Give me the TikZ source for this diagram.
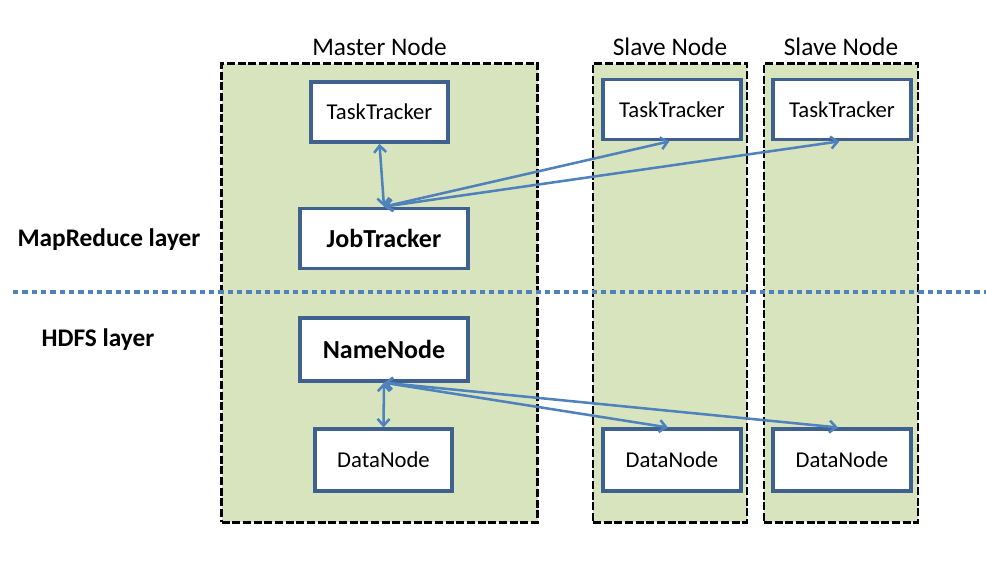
\documentclass[tikz,border=0pt]{standalone}
\usepackage{fontspec}
\setmainfont{Carlito}
\usetikzlibrary{arrows.meta}
\definecolor{boxgreen}{HTML}{D7E4BD}
\definecolor{nodeblue}{HTML}{3E6190}
\definecolor{arrowblue}{HTML}{4F81BD}
\begin{document}
\begin{tikzpicture}[x=0.75pt,y=-0.75pt]
        \tikzstyle{machine}=[draw=black,fill=boxgreen,line width=2.2pt,dash pattern=on 6pt off 2pt,minimum height=344pt,inner sep=0pt,label={[font=\fontsize{19}{22}\selectfont,label distance=1pt]above:#1}]
        \tikzstyle{daemon}=[draw=nodeblue,fill=white,line width=2.8pt,minimum width=103pt,minimum height=45pt,inner sep=0pt,font=\fontsize{17}{20}\selectfont]
        \tikzstyle{master}=[daemon,minimum width=126pt,font=\fontsize{19.5}{22}\selectfont\bfseries]
        \tikzstyle{layer}=[font=\fontsize{19}{22}\selectfont\bfseries]
        \tikzstyle{link}=[arrowblue,line width=1.9pt,{Straight Barb[length=5pt,width=9pt]}-{Straight Barb[length=5pt,width=9pt]}]
        \useasboundingbox (0,0) rectangle (986,588);
        % machines
        \node[machine=Master Node,minimum width=237pt] (mn) at (379.5,293) {};
        \node[machine=Slave Node,minimum width=115.5pt] (sn1) at (670,293) {};
        \node[machine=Slave Node,minimum width=115.5pt] (sn2) at (841,293) {};
        % layer separator
        \draw[arrowblue,line width=3.5pt,dash pattern=on 4pt off 3pt] (13,292) -- (986,292);
        \node[layer] (mr) at (109,240) {MapReduce layer};
        \node[layer] (hdfs) at (98,340) {HDFS layer};
        % daemons
        \node[daemon] (tt0) at (379.5,112) {TaskTracker};
        \node[master] (jt) at (384,238.5) {JobTracker};
        \node[daemon] (tt1) at (672,109.5) {TaskTracker};
        \node[daemon] (tt2) at (842,109.5) {TaskTracker};
        \node[master,minimum height=47pt] (nn) at (384,349.5) {NameNode};
        \node[daemon,minimum height=46pt] (dn0) at (383.5,460) {DataNode};
        \node[daemon,minimum height=46pt] (dn1) at (672,460) {DataNode};
        \node[daemon,minimum height=46pt] (dn2) at (842,460) {DataNode};
        % links
        \draw[link] (tt0.south) -- (jt.north);
        \draw[link] (jt.north) -- ([xshift=-2pt]tt1.south);
        \draw[link] (jt.north) -- ([xshift=-2pt]tt2.south);
        \draw[link] (nn.south) -- (dn0.north);
        \draw[link] (nn.south) -- ([xshift=-3pt]dn1.north);
        \draw[link] (nn.south) -- ([xshift=-3pt]dn2.north);
\end{tikzpicture}
\end{document}
